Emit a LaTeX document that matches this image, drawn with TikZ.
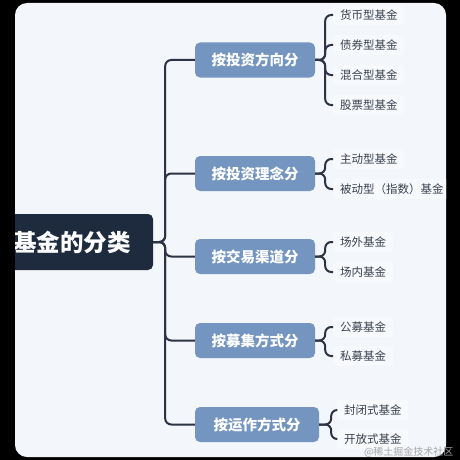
\documentclass[tikz,border=0pt]{standalone}
\usepackage{fontspec}
\newfontfamily\cjk{Noto Sans CJK SC}
\definecolor{panelbg}{HTML}{F3F6FA}
\definecolor{rootblue}{HTML}{1E2A3D}
\definecolor{catblue}{HTML}{7395C0}
\definecolor{linegray}{HTML}{2B3344}
\definecolor{leafgray}{HTML}{3A4150}
\definecolor{leafbg}{HTML}{F7F9FC}
\begin{document}
\begin{tikzpicture}[x=1pt,y=-1pt,
	rootbox/.style={fill=rootblue, text=white, font=\cjk\bfseries\fontsize{23.5}{25}\selectfont, rounded corners=5pt, minimum width=162pt, minimum height=56pt, inner sep=0pt},
	catbox/.style={fill=catblue, text=white, font=\cjk\bfseries\fontsize{14.5}{16}\selectfont, rounded corners=5pt, minimum width=120pt, minimum height=35pt, inner sep=0pt},
	leaf/.style={anchor=west, text=leafgray, font=\cjk\fontsize{11.5}{13}\selectfont, fill=leafbg, rounded corners=3pt, inner xsep=7pt, inner ysep=5pt},
	link/.style={draw=linegray, line width=2pt, rounded corners=6pt}]
					\useasboundingbox (0,0) rectangle (460,460);
					\fill[black] (0,0) rectangle (460,460);
					\fill[panelbg, rounded corners=12pt] (15,3) rectangle (446,457);
					
					\begin{scope}
					\clip[rounded corners=12pt] (15,3) rectangle (446,457);
					
					\node[rootbox] (root) at (72,242) {基金的分类};
					
					\node[catbox] (dir) at (255,60) {按投资方向分};
					\node[catbox] (idea) at (255,173.5) {按投资理念分};
					\node[catbox] (trade) at (255,256.5) {按交易渠道分};
					\node[catbox] (raise) at (255,340.5) {按募集方式分};
					\node[catbox, minimum width=124pt] (oper) at (257,424.5) {按运作方式分};
					
					\node[leaf] (dir1) at (333,15) {货币型基金};
					\node[leaf] (dir2) at (333,45) {债券型基金};
					\node[leaf] (dir3) at (333,75) {混合型基金};
					\node[leaf] (dir4) at (333,105) {股票型基金};
					
					\node[leaf] (idea1) at (333,159) {主动型基金};
					\node[leaf] (idea2) at (333,189) {被动型（指数）基金};
					
					\node[leaf] (trade1) at (333,242) {场外基金};
					\node[leaf] (trade2) at (333,272) {场内基金};
					
					\node[leaf] (raise1) at (333,327) {公募基金};
					\node[leaf] (raise2) at (333,356) {私募基金};
					
					\node[leaf] (oper1) at (337,410) {封闭式基金};
					\node[leaf] (oper2) at (337,439) {开放式基金};
					
					\draw[link] (root.east) -- ++(12,0) |- (dir.west);
					\draw[link] (root.east) -- ++(12,0) |- (idea.west);
					\draw[link] (root.east) -- ++(12,0) |- (trade.west);
					\draw[link] (root.east) -- ++(12,0) |- (raise.west);
					\draw[link] (root.east) -- ++(12,0) |- (oper.west);
					
					\draw[link] (dir.east) -- ++(10,0) |- (dir1.west);
					\draw[link] (dir.east) -- ++(10,0) |- (dir2.west);
					\draw[link] (dir.east) -- ++(10,0) |- (dir3.west);
					\draw[link] (dir.east) -- ++(10,0) |- (dir4.west);
					
					\draw[link] (idea.east) -- ++(10,0) |- (idea1.west);
					\draw[link] (idea.east) -- ++(10,0) |- (idea2.west);
					
					\draw[link] (trade.east) -- ++(10,0) |- (trade1.west);
					\draw[link] (trade.east) -- ++(10,0) |- (trade2.west);
					
					\draw[link] (raise.east) -- ++(10,0) |- (raise1.west);
					\draw[link] (raise.east) -- ++(10,0) |- (raise2.west);
					
					\draw[link] (oper.east) -- ++(12,0) |- (oper1.west);
					\draw[link] (oper.east) -- ++(12,0) |- (oper2.west);
					\end{scope}
					
					\node[anchor=east, text=gray!70!white, font=\cjk\fontsize{10}{12}\selectfont] (mark) at (457,452) {@稀土掘金技术社区};
\end{tikzpicture}
\end{document}
